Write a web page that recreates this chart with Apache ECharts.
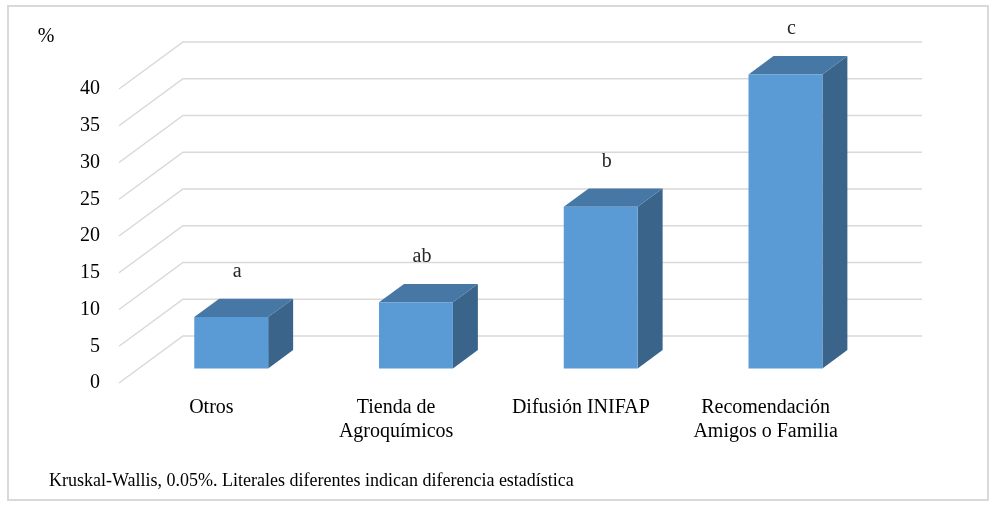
<!DOCTYPE html>
<html>
<head>
<meta charset="utf-8">
<script src="https://cdn.jsdelivr.net/npm/echarts@6/dist/echarts.min.js"></script>
<style>
html,body{margin:0;padding:0;background:#fff;}
#chart{width:995px;height:511px;}
</style>
</head>
<body>
<div id="chart"></div>
<script>
// ---- data ----
const categories = ['Otros', 'Tienda de\nAgroquímicos', 'Difusión INIFAP', 'Recomendación\nAmigos o Familia'];
const percentValues = [7, 9, 22, 40];
const significanceLetters = ['a', 'ab', 'b', 'c'];
const yTicks = [0, 5, 10, 15, 20, 25, 30, 35, 40];
const yAxisUnit = '%';
const footnote = 'Kruskal-Wallis, 0.05%. Literales diferentes indican diferencia estadística';

// ---- style ----
const FONT = "'Liberation Serif', 'Times New Roman', serif";
const DEPTH = { x: 64, y: -47 };
const BAR_FRONT = 0.31, BAR_BACK = 0.70, BAR_WIDTH = 0.40;
const C_FRONT = '#5B9BD5', C_TOP = '#4677A5', C_SIDE = '#3A6489';
const GRID_COLOR = '#D9D9D9';

const chart = echarts.init(document.getElementById('chart'), null, { renderer: 'canvas' });

function renderWall(params, api) {
  const v = api.value(1);
  const p = api.coord([0, v]);
  const cs = params.coordSys;
  const left = cs.x, right = cs.x + cs.width;
  return {
    type: 'polyline',
    shape: { points: [[left, p[1]], [left + DEPTH.x, p[1] + DEPTH.y], [right + DEPTH.x, p[1] + DEPTH.y]] },
    style: { stroke: GRID_COLOR, lineWidth: 1.5, fill: null },
    silent: true
  };
}

function renderBar(params, api) {
  const idx = api.value(0);
  const val = api.value(1);
  const base = api.coord([idx, 0]);
  const top = api.coord([idx, val]);
  const band = api.size([1, 0])[0];
  const w = band * BAR_WIDTH;
  const fx = DEPTH.x * BAR_FRONT, fy = DEPTH.y * BAR_FRONT;
  const ddx = DEPTH.x * (BAR_BACK - BAR_FRONT), ddy = DEPTH.y * (BAR_BACK - BAR_FRONT);
  const x0 = base[0] - w / 2 + fx, x1 = x0 + w;
  const yb = base[1] + fy, yt = top[1] + fy;
  return {
    type: 'group',
    children: [
      { type: 'polygon', shape: { points: [[x1, yt], [x1 + ddx, yt + ddy], [x1 + ddx, yb + ddy], [x1, yb]] }, style: { fill: C_SIDE } },
      { type: 'polygon', shape: { points: [[x0, yt], [x1, yt], [x1 + ddx, yt + ddy], [x0 + ddx, yt + ddy]] }, style: { fill: C_TOP } },
      { type: 'rect', shape: { x: x0, y: yt, width: w, height: yb - yt }, style: { fill: C_FRONT } },
      { type: 'text', x: base[0] + fx + 6, y: yt + ddy - 27,
        style: { text: significanceLetters[idx], font: '20px ' + FONT, fill: '#262626', align: 'center', verticalAlign: 'middle' } }
    ]
  };
}

chart.setOption({
  animation: false,
  backgroundColor: '#fff',
  grid: { left: 119, right: 137, top: 89, bottom: 128 },
  xAxis: {
    type: 'category',
    data: categories,
    axisLine: { show: false },
    axisTick: { show: false },
    axisLabel: { color: '#000', fontFamily: FONT, fontSize: 20, lineHeight: 24, margin: 13, interval: 0 }
  },
  yAxis: {
    type: 'value',
    min: yTicks[0],
    max: yTicks[yTicks.length - 1],
    interval: yTicks[1] - yTicks[0],
    axisLine: { show: false },
    axisTick: { show: false },
    splitLine: { show: false },
    axisLabel: { color: '#000', fontFamily: FONT, fontSize: 20, margin: 19 }
  },
  graphic: [
    { type: 'rect', shape: { x: 8, y: 6, width: 980, height: 494 }, style: { fill: null, stroke: GRID_COLOR, lineWidth: 2 }, silent: true },
    { type: 'text', x: 46, y: 37, style: { text: yAxisUnit, font: '20px ' + FONT, fill: '#000', align: 'center', verticalAlign: 'middle' } },
    { type: 'text', x: 49, y: 481, style: { text: footnote, font: '18px ' + FONT, fill: '#000', align: 'left', verticalAlign: 'middle' } }
  ],
  series: [
    { type: 'custom', name: 'walls', renderItem: renderWall, data: yTicks.map(v => [0, v]), z: 1, silent: true },
    { type: 'custom', name: 'bars', renderItem: renderBar, data: percentValues.map((v, i) => [i, v]), z: 2 }
  ]
});
</script>
</body>
</html>
